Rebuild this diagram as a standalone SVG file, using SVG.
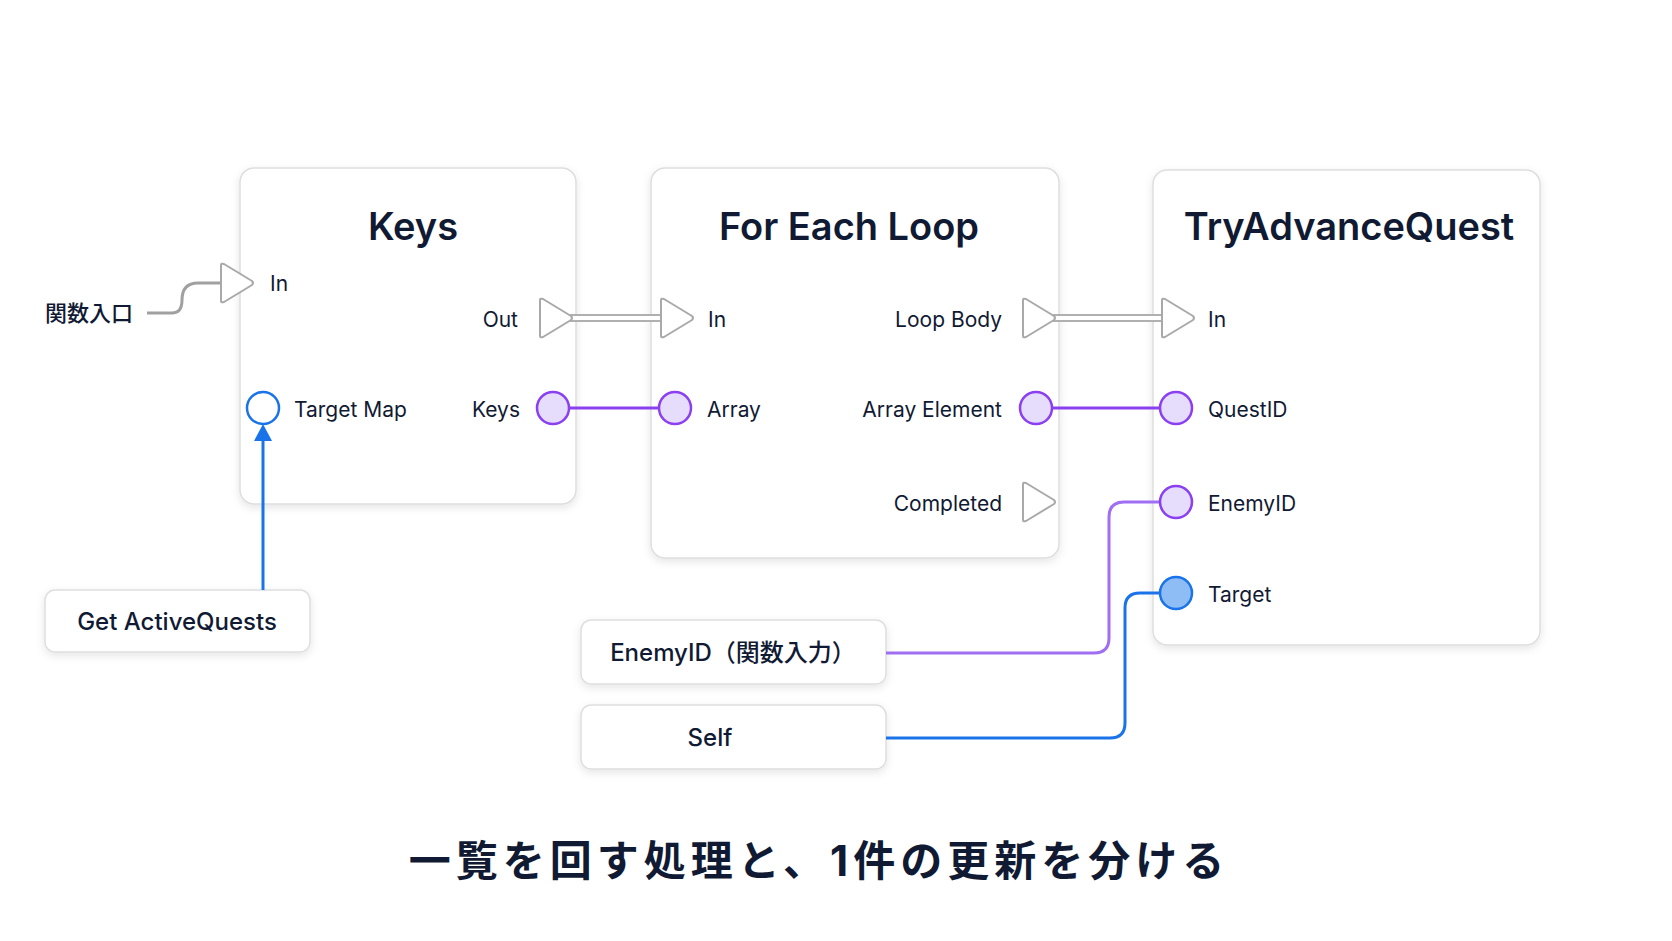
<svg xmlns="http://www.w3.org/2000/svg" width="1672" height="941" viewBox="0 0 1672 941">
<defs>
<filter id="sh" x="-10%" y="-10%" width="120%" height="130%"><feDropShadow dx="0" dy="3" stdDeviation="4" flood-color="#000" flood-opacity="0.10"/></filter>
</defs>
<style>
.box{fill:#fff;stroke:#dedede;stroke-width:1.5;filter:url(#sh)}
.t{font-family:Inter,"Noto Sans CJK JP",sans-serif;fill:#111a33}
.title{font-size:38px;font-weight:600;text-anchor:middle}
.lbl{font-size:21px}
.r{text-anchor:end}
.exec{fill:#fff;stroke:#a9a9a9;stroke-width:2;stroke-linejoin:round}
.pp{fill:#e6dcfb;stroke:#8a3ff0;stroke-width:2.5}
</style>
<rect width="1672" height="941" fill="#fff"/>
<g id="keys">
<rect class="box" x="240" y="168" width="336" height="336" rx="14"/>
<text class="t title" x="413" y="240">Keys</text>
<text class="t lbl" x="270" y="291">In</text>
<text class="t lbl r" x="518" y="327">Out</text>
<text class="t lbl" x="294" y="417">Target Map</text>
<text class="t lbl r" x="520" y="417">Keys</text>
</g>
<g id="foreach">
<rect class="box" x="651" y="168" width="408" height="390" rx="14"/>
<text class="t title" x="849" y="240">For Each Loop</text>
<text class="t lbl" x="708" y="327">In</text>
<text class="t lbl" x="707" y="417">Array</text>
<text class="t lbl r" x="1002" y="327">Loop Body</text>
<text class="t lbl r" x="1002" y="417">Array Element</text>
<text class="t lbl r" x="1002" y="511">Completed</text>
</g>
<g id="tryadvance">
<rect class="box" x="1153" y="170" width="387" height="475" rx="14"/>
<text class="t title" x="1349" y="240">TryAdvanceQuest</text>
<text class="t lbl" x="1208" y="327">In</text>
<text class="t lbl" x="1208" y="417">QuestID</text>
<text class="t lbl" x="1208" y="511">EnemyID</text>
<text class="t lbl" x="1208" y="602">Target</text>
</g>
<g id="entry"><text class="t" x="45" y="321" font-size="22" font-weight="500">関数入口</text></g>
<g id="getactive">
<rect class="box" x="45" y="590" width="265" height="62" rx="10"/>
<text class="t" x="177" y="630" text-anchor="middle" font-size="24" font-weight="500">Get ActiveQuests</text>
</g>
<g id="enemyid">
<rect class="box" x="581" y="620" width="305" height="64" rx="10"/>
<text class="t" x="733" y="661" text-anchor="middle" font-size="24" font-weight="500">EnemyID（関数入力）</text>
</g>
<g id="self">
<rect class="box" x="581" y="705" width="305" height="64" rx="10"/>
<text class="t" x="710" y="746" text-anchor="middle" font-size="24" font-weight="500">Self</text>
</g>
<g id="connectors" fill="none">
<path d="M147,313 H172 Q182,313 182,300 Q182,283 198,283 H221" stroke="#a0a0a0" stroke-width="3"/>
<path d="M570,318 H663" stroke="#b0b0b0" stroke-width="8"/><path d="M570,318 H663" stroke="#fff" stroke-width="4"/>
<path d="M1053,318 H1164" stroke="#b0b0b0" stroke-width="8"/><path d="M1053,318 H1164" stroke="#fff" stroke-width="4"/>
<path d="M569,408 H659" stroke="#8a3ff0" stroke-width="3"/>
<path d="M1052,408 H1160" stroke="#8a3ff0" stroke-width="3"/>
<path d="M263,590 V438" stroke="#1a73e8" stroke-width="3"/>
<polygon points="254,441 272,441 263,424" fill="#1a73e8"/>
<path d="M886,653 H1094 Q1109,653 1109,638 V517 Q1109,502 1124,502 H1160" stroke="#a06ef2" stroke-width="3"/>
<path d="M886,738 H1110 Q1125,738 1125,723 V608 Q1125,593 1140,593 H1160" stroke="#1a73e8" stroke-width="3"/>
</g>
<g id="ports">
<path class="exec" d="M221,265 L221,301 Q221,303 224,302 L252,285 Q254,283 252,281 L224,264 Q221,263 221,265 Z"/>
<path class="exec" d="M540,300 L540,336 Q540,338 543,337 L571,320 Q573,318 571,316 L543,299 Q540,298 540,300 Z"/>
<circle cx="263" cy="408" r="16" fill="#fff" stroke="#1a73e8" stroke-width="2.5"/>
<circle class="pp" cx="553" cy="408" r="16"/>
<path class="exec" d="M661,300 L661,336 Q661,338 664,337 L692,320 Q694,318 692,316 L664,299 Q661,298 661,300 Z"/>
<circle class="pp" cx="675" cy="408" r="16"/>
<path class="exec" d="M1023,300 L1023,336 Q1023,338 1026,337 L1054,320 Q1056,318 1054,316 L1026,299 Q1023,298 1023,300 Z"/>
<circle class="pp" cx="1036" cy="408" r="16"/>
<path class="exec" d="M1023,484 L1023,520 Q1023,522 1026,521 L1054,504 Q1056,502 1054,500 L1026,483 Q1023,482 1023,484 Z"/>
<path class="exec" d="M1162,300 L1162,336 Q1162,338 1165,337 L1193,320 Q1195,318 1193,316 L1165,299 Q1162,298 1162,300 Z"/>
<circle class="pp" cx="1176" cy="408" r="16"/>
<circle class="pp" cx="1176" cy="502" r="16"/>
<circle cx="1176" cy="593" r="16" fill="#8ebcf5" stroke="#1a73e8" stroke-width="2.5"/>
</g>
<text class="t" x="819" y="876" text-anchor="middle" font-size="42" font-weight="700" letter-spacing="5">一覧を回す処理と、1件の更新を分ける</text>
</svg>
